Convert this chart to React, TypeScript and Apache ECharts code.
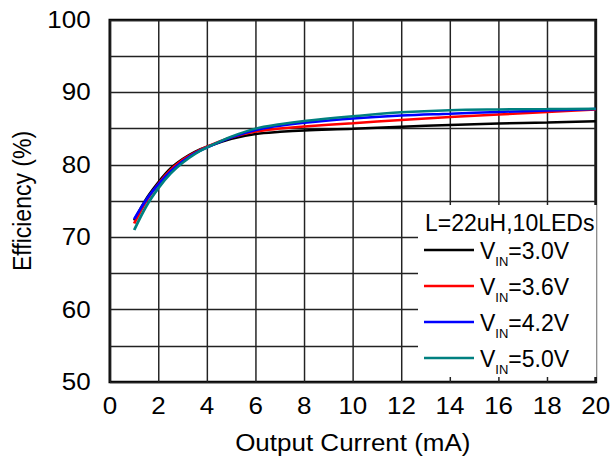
import React, { useEffect, useRef } from "react";
import * as echarts from "echarts";

const xValues = [1, 1.5, 2, 2.5, 3, 3.5, 4, 5, 6, 7, 8, 10, 12, 14, 16, 18, 20];
const vin30 = [72.3, 75.3, 77.6, 79.5, 80.8, 81.8, 82.5, 83.6, 84.25, 84.55, 84.75, 84.97, 85.27, 85.5, 85.7, 85.85, 86.0];
const vin36 = [71.9, 75.0, 77.4, 79.3, 80.7, 81.7, 82.5, 83.8, 84.6, 85.0, 85.3, 85.75, 86.2, 86.6, 86.95, 87.3, 87.65];
const vin42 = [72.5, 75.2, 77.3, 79.1, 80.5, 81.6, 82.4, 83.8, 84.8, 85.4, 85.8, 86.4, 86.8, 87.05, 87.3, 87.5, 87.7];
const vin50 = [71.0, 74.3, 76.8, 78.8, 80.3, 81.5, 82.4, 83.9, 85.0, 85.6, 86.05, 86.7, 87.25, 87.55, 87.65, 87.7, 87.75];

const seriesNames = ["VIN=3.0V", "VIN=3.6V", "VIN=4.2V", "VIN=5.0V"];
const legendValues = ["=3.0V", "=3.6V", "=4.2V", "=5.0V"];
const seriesColors = ["#000000", "#ff0000", "#0000ff", "#008080"];
const seriesData = [vin30, vin36, vin42, vin50];
const legendTitle = "L=22uH,10LEDs";
const xTitle = "Output Current (mA)";
const yTitle = "Efficiency (%)";

const FONT = "Liberation Sans, Arial, sans-serif";
const FS = 23;
// the reference's axis texts are horizontally stretched; draw narrower and stretch with CSS
const S = 1.13;
const W = 614 / S;
const H = 462;
const px = (x: number) => x / S;

const legendRowY = [250, 286, 322, 358];

export default function App() {
  const ref = useRef<HTMLDivElement>(null);
  useEffect(() => {
    if (!ref.current) return;
    const chart = echarts.init(ref.current, undefined, { renderer: "svg" });

    const legendGraphics: any[] = [];
    seriesNames.forEach((name, i) => {
      const y = legendRowY[i];
      legendGraphics.push({
        type: "line",
        z: 5,
        shape: { x1: px(424), y1: y, x2: px(474), y2: y },
        style: { stroke: seriesColors[i], lineWidth: 2.6 },
      });
      legendGraphics.push({
        type: "text",
        z: 5,
        x: px(480),
        y: y + 2,
        scaleX: 1 / S,
        style: {
          text: `{v|V}{sub|IN}{v|${legendValues[i]}}`,
          verticalAlign: "middle",
          fontFamily: FONT,
          fill: "#000",
          rich: {
            v: { fontSize: FS, fontFamily: FONT, fill: "#000", lineHeight: 24, verticalAlign: "top" },
            sub: { fontSize: 13, fontFamily: FONT, fill: "#000", lineHeight: 13, verticalAlign: "top", padding: [15, 0, 0, 0] },
          },
        },
      });
    });

    const option: any = {
      animation: false,
      backgroundColor: "#ffffff",
      textStyle: { fontFamily: FONT },
      grid: {
        left: px(104.5),
        top: 20,
        right: px(16.3),
        bottom: 80,
        show: true,
        borderColor: "#000",
        borderWidth: 2.5,
        containLabel: false,
      },
      xAxis: {
        type: "value",
        min: 0,
        max: 20,
        interval: 2,
        name: xTitle,
        nameLocation: "middle",
        nameGap: 50,
        nameTextStyle: { fontSize: FS, color: "#000", fontFamily: FONT },
        axisLine: { show: false },
        axisTick: { show: false },
        axisLabel: { fontSize: FS, color: "#000", margin: 13, fontFamily: FONT },
        splitLine: { show: true, lineStyle: { color: "#222", width: 1.3 } },
      },
      yAxis: {
        type: "value",
        min: 50,
        max: 100,
        interval: 5,
        name: yTitle,
        nameLocation: "middle",
        nameGap: 64,
        nameTextStyle: { fontSize: FS, color: "#000", fontFamily: FONT },
        axisLine: { show: false },
        axisTick: { show: false },
        axisLabel: {
          fontSize: FS,
          color: "#000",
          margin: 17,
          fontFamily: FONT,
          formatter: (v: number) => (v % 10 === 0 ? String(v) : ""),
        },
        splitLine: { show: true, lineStyle: { color: "#222", width: 1.3 } },
      },
      graphic: [
        {
          type: "rect",
          z: 3,
          shape: { x: px(418), y: 205, width: px(596.5) - px(418), height: 172 },
          style: { fill: "#fff" },
        },
        {
          type: "text",
          z: 5,
          x: px(425),
          y: 223,
          scaleX: 1 / S,
          style: {
            text: legendTitle,
            fontSize: FS,
            fontFamily: FONT,
            fill: "#000",
            verticalAlign: "middle",
          },
        },
        ...legendGraphics,
      ],
      series: seriesNames.map((name, i) => ({
        name,
        type: "line",
        smooth: 0.35,
        symbol: "none",
        color: seriesColors[i],
        lineStyle: { color: seriesColors[i], width: 2.5 },
        data: xValues.map((x, j) => [x, seriesData[i][j]]),
      })),
    };
    chart.setOption(option);
    return () => chart.dispose();
  }, []);
  return (
    <div
      ref={ref}
      style={{
        position: "absolute",
        left: 0,
        top: 0,
        width: W,
        height: H,
        transform: `scaleX(${S})`,
        transformOrigin: "0 0",
      }}
    />
  );
}
